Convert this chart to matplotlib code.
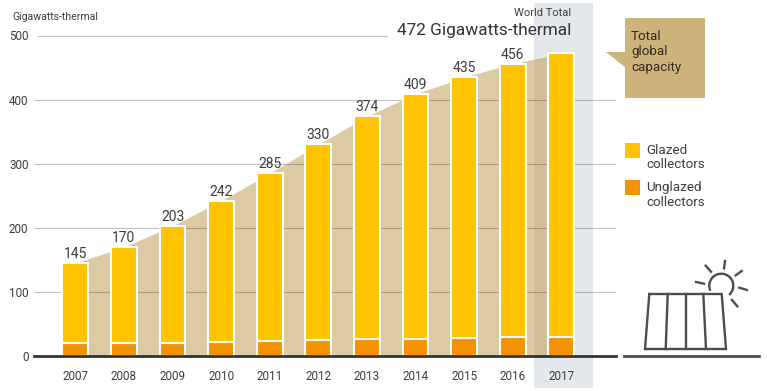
import matplotlib as mpl
from matplotlib import pyplot as plt
from matplotlib.patches import Arc, Polygon, Rectangle
import numpy as np

mpl.rcParams['font.family'] = ['Roboto', 'DejaVu Sans']

years = ['2007', '2008', '2009', '2010', '2011', '2012', '2013', '2014', '2015', '2016', '2017']
totals = [145, 170, 203, 242, 285, 330, 374, 409, 435, 456, 472]
unglazed = [20, 21, 21, 22, 23, 25, 26, 27, 28, 29, 30]
yticks = [0, 100, 200, 300, 400, 500]

glazed = [t - u for t, u in zip(totals, unglazed)]
idx = np.arange(len(years))

W, H = 767, 391
YELLOW = '#FFC300'
ORANGE = '#F39200'
TAN = '#CDB47A'
TEXT = '#3c3c3c'
ICON = '#4d4d4d'

fig = plt.figure(figsize=(W / 100, H / 100), dpi=100)

# main axes, placed by pixels: baseline at y=356, 500 line at y=35.5
ax = fig.add_axes([34 / W, (H - 356) / H, 582 / W, 320.5 / H])
ax.set_xlim((34 - 75.3) / 48.6, (616 - 75.3) / 48.6)
ax.set_ylim(0, 500)
for s in ['top', 'left', 'right']:
    ax.spines[s].set_visible(False)
ax.spines['bottom'].set_color('#333333')
ax.spines['bottom'].set_linewidth(2)
ax.spines['bottom'].set_zorder(6)

ax.axvspan(9.44, 10.65, ymin=-0.1, ymax=1.1, color='#E4E7EB', lw=0, zorder=0, clip_on=False)

ax.fill_between(idx, totals, color='#BB9747', alpha=0.5, lw=0, zorder=1)

for v in yticks[1:-1]:
    ax.plot(ax.get_xlim(), [v, v], color='#444444', alpha=0.32, lw=0.8, zorder=2)
ax.plot([-0.77, 6.42], [500, 500], color='#444444', alpha=0.32, lw=0.8, zorder=2, clip_on=False)

ax.bar(idx, unglazed, width=0.53, color=ORANGE, edgecolor='white', lw=1.5, zorder=3)
ax.bar(idx, glazed, width=0.53, bottom=unglazed, color=YELLOW, edgecolor='white', lw=1.5, zorder=3)

for i in idx[:-1]:
    ax.annotate(str(totals[i]), (i, totals[i]), xytext=(0, 1.5), textcoords='offset points',
                ha='center', va='bottom', fontsize=10, color=TEXT, zorder=5)

ax.set_xticks(idx, years)
ax.set_yticks(yticks)
ax.tick_params(axis='x', length=0, pad=10, labelsize=8.4, labelcolor=TEXT)
ax.tick_params(axis='y', length=0, pad=4, labelsize=8.4, labelcolor=TEXT)

# pixel overlay for the notes, legend and icon
ov = fig.add_axes([0, 0, 1, 1])
ov.set_xlim(0, W)
ov.set_ylim(H, 0)
ov.axis('off')
ov.patch.set_alpha(0)

ov.text(12, 17, 'Gigawatts-thermal', fontsize=7.6, color=TEXT, ha='left', va='center')
ov.text(571, 12.5, 'World Total', fontsize=8.0, color=TEXT, ha='right', va='center')
ov.text(571, 30, '472 Gigawatts-thermal', fontsize=12.4, color='#333333', ha='right', va='center')

ov.add_patch(Rectangle((625, 18), 79.5, 80, color=TAN, lw=0))
ov.add_patch(Polygon([(606, 52), (626, 52), (626, 68)], color=TAN, lw=0))
for y, s in zip([36, 52, 67], ['Total', 'global', 'capacity']):
    ov.text(631, y, s, fontsize=9.6, color='#2e2a20', ha='left', va='center')

ov.add_patch(Rectangle((625, 143), 15, 15, color=YELLOW, lw=0))
ov.add_patch(Rectangle((625, 180), 15, 15, color=ORANGE, lw=0))
for y, s in zip([150, 164, 188, 202], ['Glazed', 'collectors', 'Unglazed', 'collectors']):
    ov.text(646, y, s, fontsize=9.6, color=TEXT, ha='left', va='center')

# solar panel icon
ov.plot([649.3, 721.7, 726, 645, 649.3], [294, 294, 349, 349, 294], color=ICON, lw=1.7, solid_joinstyle='miter')
for top, bot in [(667.7, 665.7), (685.7, 685.7), (703.3, 706)]:
    ov.plot([top, bot], [294, 349], color=ICON, lw=1.7)
ov.plot([624, 759], [356, 356], color=ICON, lw=2)
ov.add_patch(Arc((721.3, 285.7), 24, 24, theta1=155, theta2=50, color=ICON, lw=1.7))
rays = [((705.7, 265.7), (711, 271.7)), ((725, 261), (724, 268.3)), ((741.7, 271), (735.7, 275.3)),
        ((739.3, 287.7), (747, 290)), ((732, 300), (737.3, 306.3)), ((696, 282), (704, 283.7))]
for a, b in rays:
    ov.plot([a[0], b[0]], [a[1], b[1]], color=ICON, lw=1.7)

fig.savefig('out.png', dpi=100)
